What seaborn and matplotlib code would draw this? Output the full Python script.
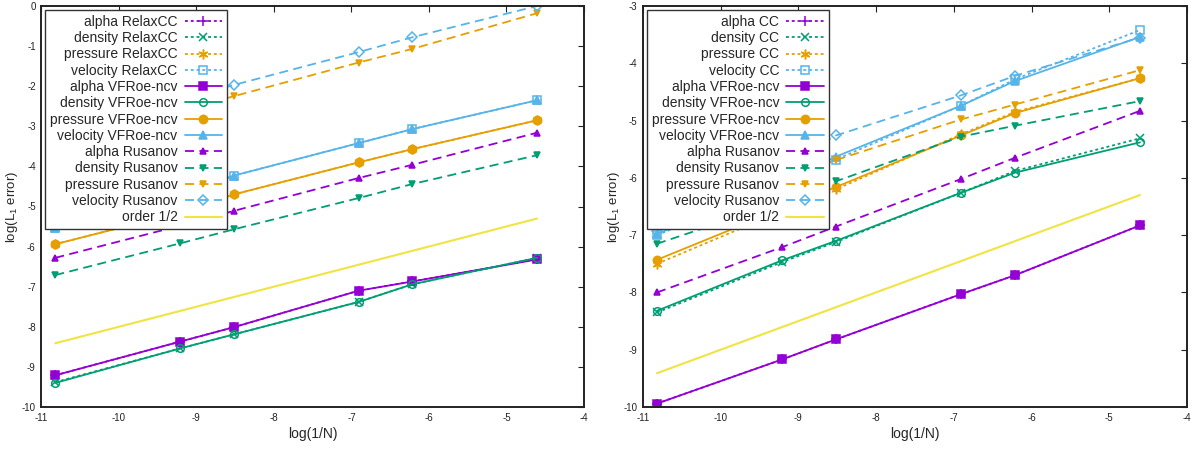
import numpy as np
import pandas as pd
import matplotlib
matplotlib.use("Agg")
import matplotlib.pyplot as plt
import seaborn as sns

# ---------------- data ----------------
N = [50000, 10000, 5000, 1000, 500, 100]
x_pts = list(np.log(1.0 / np.array(N)))
x_order = [x_pts[0], x_pts[-1]]

# left panel (RelaxCC)
alpha_cc_L = [-9.21, -8.37, -8.01, -7.10, -6.87, -6.32]
density_cc_L = [-9.38, -8.54, -8.19, -7.38, -6.94, -6.28]
pressure_cc_L = [-5.94, -5.15, -4.70, -3.90, -3.57, -2.85]
velocity_cc_L = [-5.54, -4.72, -4.23, -3.42, -3.07, -2.35]
alpha_vf_L = [-9.21, -8.37, -8.01, -7.10, -6.87, -6.32]
density_vf_L = [-9.40, -8.54, -8.19, -7.38, -6.94, -6.28]
pressure_vf_L = [-5.94, -5.15, -4.70, -3.90, -3.57, -2.85]
velocity_vf_L = [-5.54, -4.72, -4.23, -3.42, -3.07, -2.35]
alpha_rus_L = [-6.28, -5.48, -5.11, -4.29, -3.96, -3.16]
density_rus_L = [-6.71, -5.92, -5.57, -4.79, -4.44, -3.72]
pressure_rus_L = [-3.35, -2.62, -2.25, -1.41, -1.07, -0.18]
velocity_rus_L = [-3.08, -2.35, -1.97, -1.15, -0.78, 0.00]
order_L = [-8.41, -5.30]

# right panel (CC)
alpha_cc_R = [-9.94, -9.17, -8.82, -8.03, -7.70, -6.83]
density_cc_R = [-8.35, -7.47, -7.12, -6.26, -5.88, -5.31]
pressure_cc_R = [-7.50, -6.58, -6.20, -5.24, -4.85, -4.26]
velocity_cc_R = [-7.00, -6.12, -5.68, -4.74, -4.28, -3.42]
alpha_vf_R = [-9.94, -9.17, -8.82, -8.03, -7.70, -6.83]
density_vf_R = [-8.32, -7.44, -7.10, -6.26, -5.91, -5.38]
pressure_vf_R = [-7.43, -6.54, -6.16, -5.26, -4.87, -4.26]
velocity_vf_R = [-6.98, -6.10, -5.63, -4.74, -4.31, -3.54]
alpha_rus_R = [-8.00, -7.21, -6.85, -6.02, -5.65, -4.83]
density_rus_R = [-7.15, -6.42, -6.06, -5.28, -5.09, -4.66]
pressure_rus_R = [-6.65, -6.00, -5.69, -4.98, -4.72, -4.12]
velocity_rus_R = [-6.93, -5.78, -5.26, -4.56, -4.22, -3.55]
order_R = [-9.41, -6.30]

variables = ["alpha", "density", "pressure", "velocity"]
schemes_L = ["RelaxCC", "VFRoe-ncv", "Rusanov"]
schemes_R = ["CC", "VFRoe-ncv", "Rusanov"]

# ---------------- style ----------------
sns.set_theme(style="white")
plt.rcParams["font.family"] = ["Liberation Sans", "DejaVu Sans"]
plt.rcParams["axes.unicode_minus"] = False
plt.rcParams["mathtext.fontset"] = "custom"
plt.rcParams["mathtext.rm"] = "Liberation Sans"
plt.rcParams["mathtext.it"] = "Liberation Sans"

colors = {"alpha": "#9400d3", "density": "#009e73",
          "pressure": "#e69f00", "velocity": "#56b4e9"}
order_color = "#f0e442"
linestyles = [(0, (1.6, 1.6)), "-", (0, (5, 3))]
# (marker, filled) per scheme/variable, gnuplot point types 1..12
markers = [
    [("+", True), ("x", True), ((6, 2, 0), True), ("s", False)],
    [("s", True), ("o", False), ("o", True), ("^", True)],
    [("^", True), ("v", True), ("v", True), ("D", False)],
]
msizes = [
    [7, 6, 7, 6],
    [6, 5.5, 6, 6],
    [5, 5, 5, 5],
]

def panel(ax, series, order_y, schemes, ylim):
    for si, scheme in enumerate(schemes):
        for vi, var in enumerate(variables):
            y = series[si][vi]
            mk, filled = markers[si][vi]
            c = colors[var]
            df = pd.DataFrame({"x": x_pts, "y": y})
            sns.lineplot(data=df, x="x", y="y", ax=ax, color=c,
                         linestyle=linestyles[si], linewidth=1.3,
                         marker=mk, markersize=msizes[si][vi],
                         markeredgecolor=c, markeredgewidth=1.1,
                         markerfacecolor=(c if filled else "none"),
                         label=f"{var} {scheme}", sort=False)
    dfo = pd.DataFrame({"x": x_order, "y": order_y})
    sns.lineplot(data=dfo, x="x", y="y", ax=ax, color=order_color,
                 linewidth=1.5, label="order 1/2", sort=False)
    ax.set_xlim(-11, -4)
    ax.set_ylim(*ylim)
    ax.set_xticks(range(-11, -3))
    ax.set_yticks(range(ylim[0], ylim[1] + 1))
    ax.set_xlabel("log(1/N)", fontsize=10, labelpad=3)
    ax.set_ylabel("log(L$_1$ error)", fontsize=9.5, labelpad=1)
    ax.tick_params(direction="in", top=True, right=True, length=4,
                   width=0.8, labelsize=7, colors="#222222", pad=4)
    for sp in ax.spines.values():
        sp.set_color("#222222")
        sp.set_linewidth(1.4)
    leg = ax.legend(loc="upper left", bbox_to_anchor=(0.007, 0.99),
                    borderaxespad=0, markerfirst=False, fontsize=10,
                    labelspacing=0.165, handlelength=2.7, handletextpad=0.5,
                    borderpad=0.35, fancybox=False, framealpha=1,
                    edgecolor="#333333", numpoints=1)
    leg.get_frame().set_linewidth(1.0)
    leg.get_frame().set_facecolor("white")
    leg.set_zorder(10)
    return leg

fig = plt.figure(figsize=(11.96, 4.49), dpi=100)
axL = fig.add_axes([41.3 / 1196, 1 - 407 / 449, 542.7 / 1196, 401 / 449])
axR = fig.add_axes([643 / 1196, 1 - 407 / 449, 544 / 1196, 401 / 449])

series_L = [
    [alpha_cc_L, density_cc_L, pressure_cc_L, velocity_cc_L],
    [alpha_vf_L, density_vf_L, pressure_vf_L, velocity_vf_L],
    [alpha_rus_L, density_rus_L, pressure_rus_L, velocity_rus_L],
]
series_R = [
    [alpha_cc_R, density_cc_R, pressure_cc_R, velocity_cc_R],
    [alpha_vf_R, density_vf_R, pressure_vf_R, velocity_vf_R],
    [alpha_rus_R, density_rus_R, pressure_rus_R, velocity_rus_R],
]

legL = panel(axL, series_L, order_L, schemes_L, (-10, 0))
legR = panel(axR, series_R, order_R, schemes_R, (-10, -3))

fig.savefig("out.png", dpi=100)
